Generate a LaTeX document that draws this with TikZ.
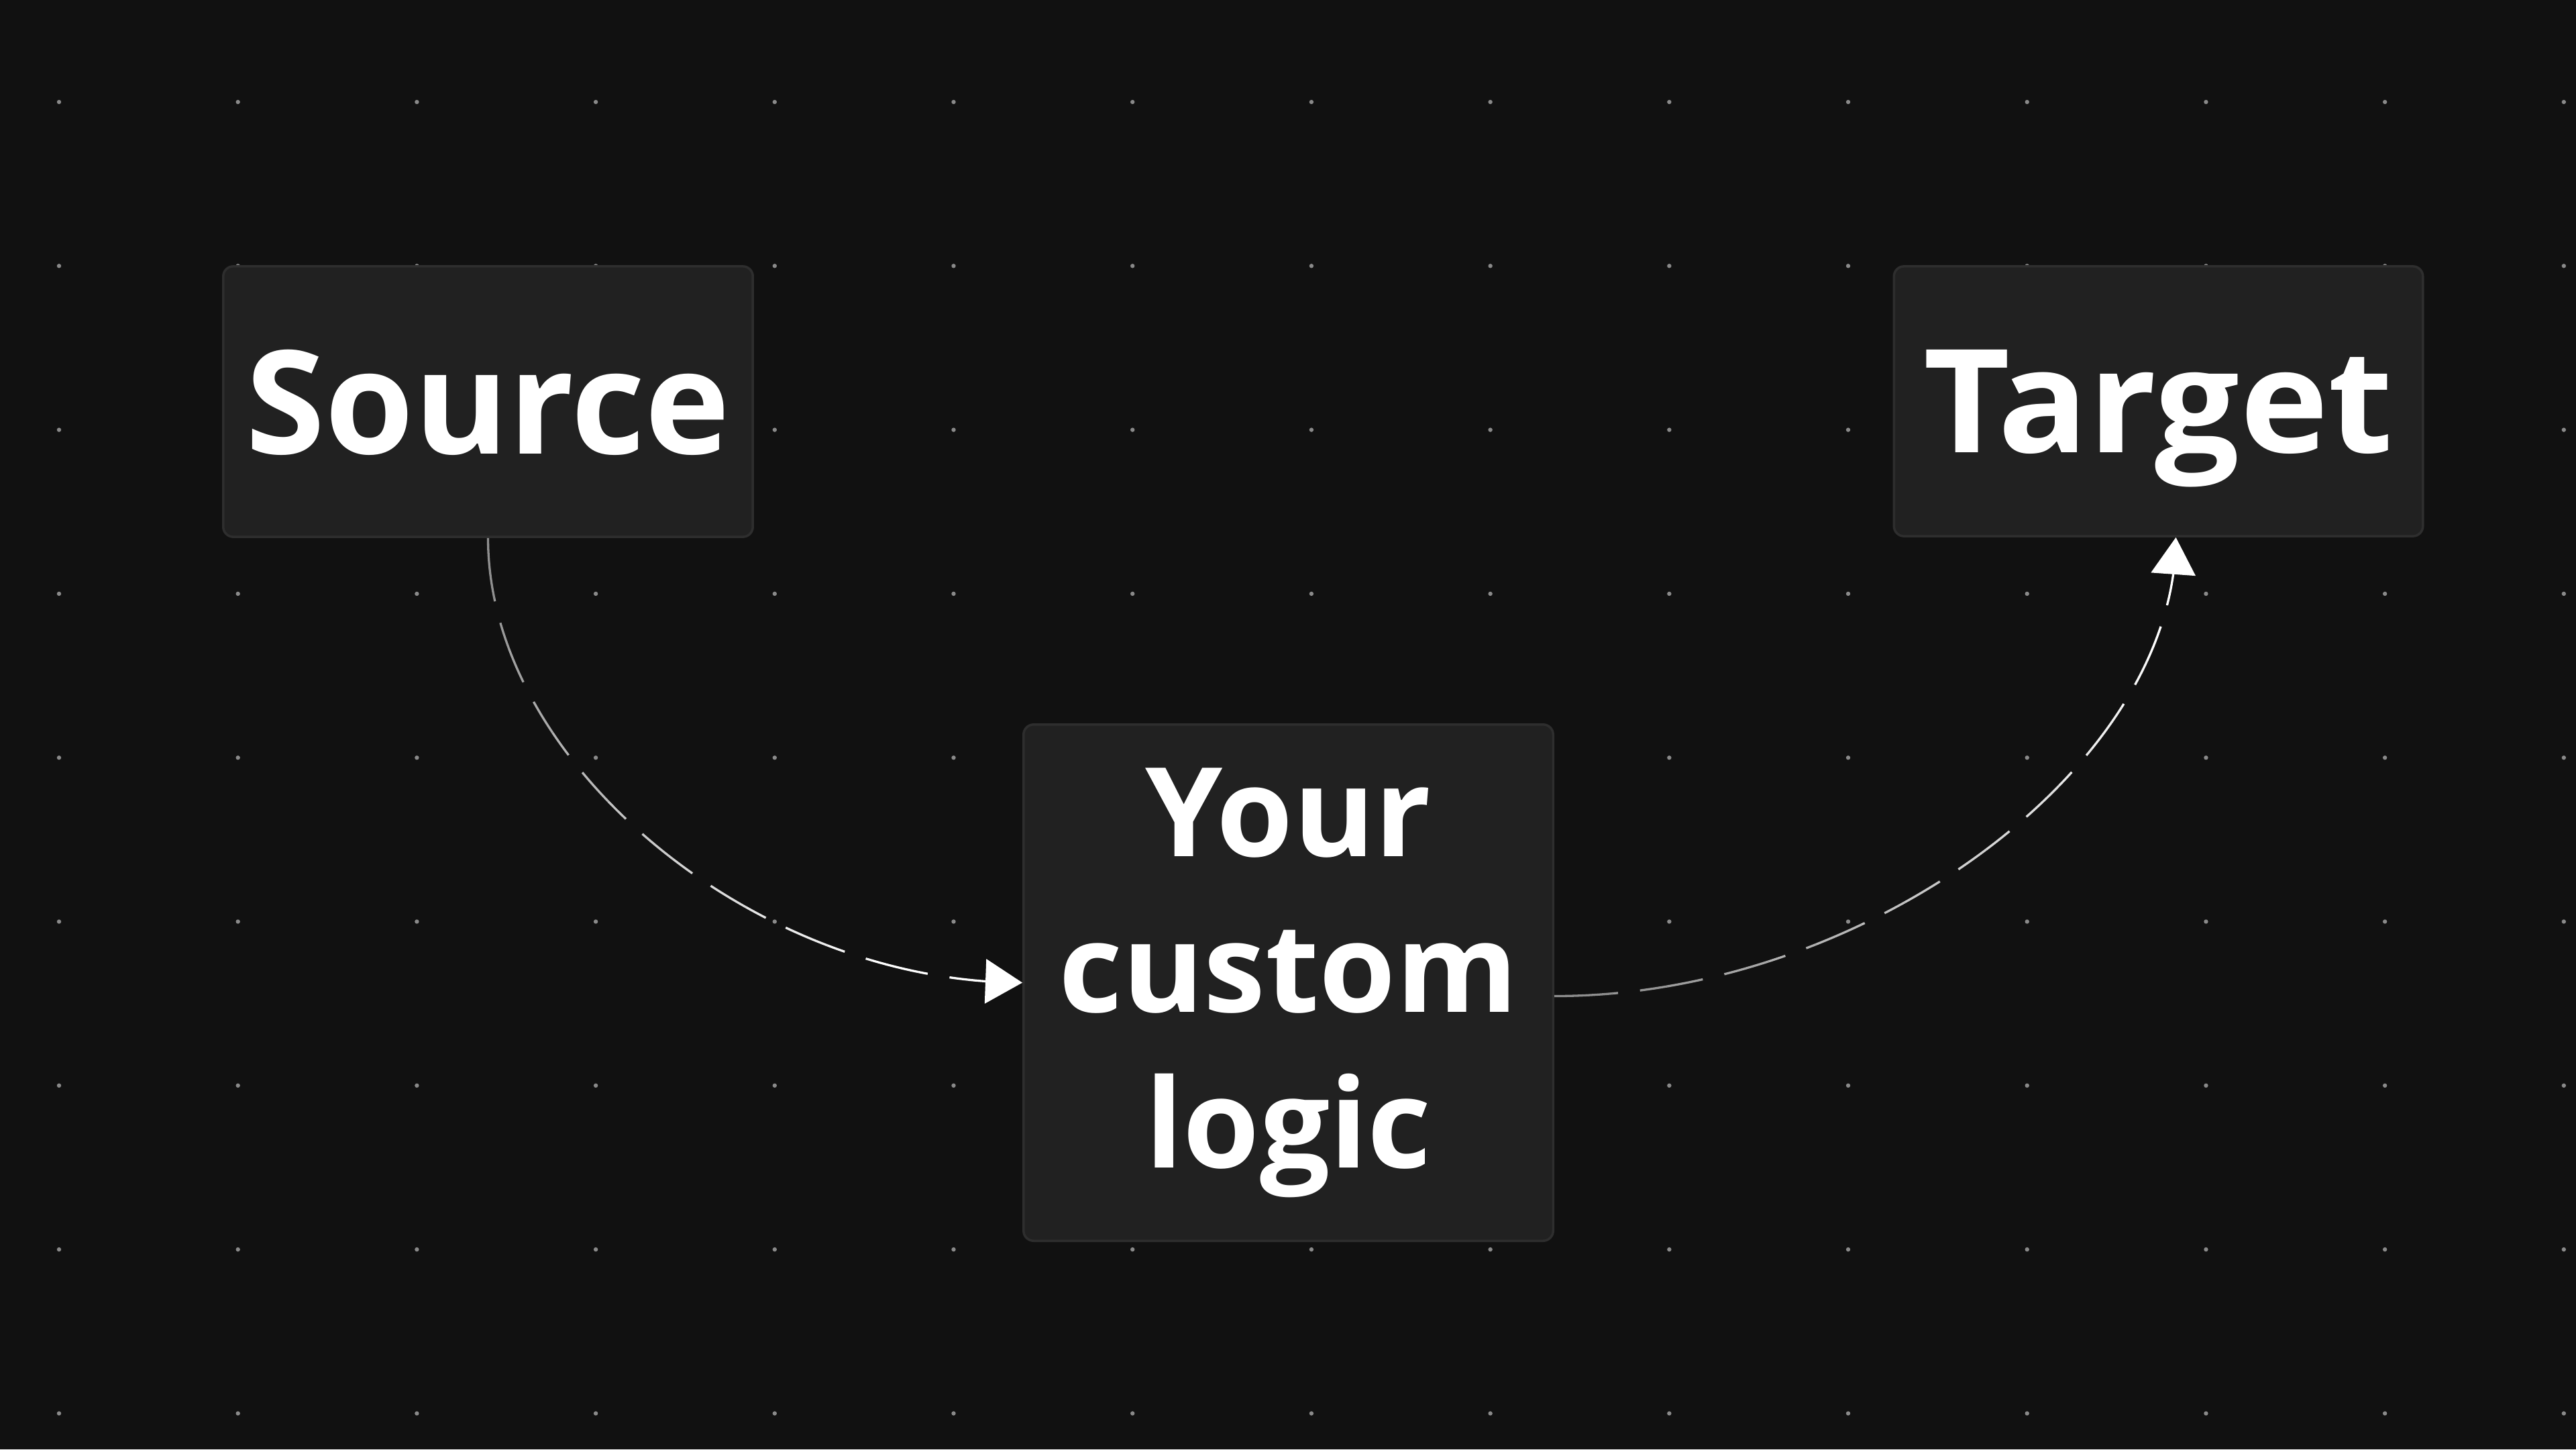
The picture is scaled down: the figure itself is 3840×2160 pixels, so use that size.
\documentclass[tikz,border=0pt]{standalone}
\usepackage{graphicx}
\usepackage{fontspec}
\setmainfont{Open Sans}
\usetikzlibrary{calc,arrows.meta,bending}
\definecolor{bgcol}{HTML}{111111}
\definecolor{boxfill}{HTML}{212121}
\definecolor{boxline}{HTML}{2E2E2E}
\definecolor{dotcol}{HTML}{8A8A8A}
\begin{document}
\begin{tikzpicture}[x=0.01cm, y=-0.01cm,
  box/.style={draw=boxline, fill=boxfill, rounded corners=0.15cm, line width=0.035cm, inner sep=0pt, text=white},
  bigtext/.style={font=\bfseries\fontsize{61}{73}\selectfont, text depth=0pt},
  midtext/.style={font=\bfseries\fontsize{52.5}{66}\selectfont, align=center},
  edge/.style={line width=0.033cm, dash pattern=on 0.95cm off 0.33cm, -{Triangle[length=0.55cm, width=0.66cm]}},
  gdot/.style={fill=dotcol}
]
\useasboundingbox (0,0) rectangle (3840,2160);
\fill[bgcol] (0,0) rectangle (3840,2160);
\foreach \i in {0,...,14}
  \foreach \j in {0,...,8}
    \fill[gdot] (88+266.7*\i, 152+244.3*\j) circle[radius=0.032cm];

\node[box, bigtext, minimum width=7.89cm, minimum height=4.03cm] (src) at (727.5,598.5) {Source};
\node[box, bigtext, minimum width=7.88cm, minimum height=4.02cm] (tg) at (3217.5,598) {\scalebox{1.04}[1]{Target}};
\node[box, midtext, minimum width=7.89cm, minimum height=7.69cm] (cl) at (1920.5,1464.5) {Your\\custom\\logic};

% edge 1: Source -> custom logic
\coordinate (s1) at (src.south);
\coordinate (e1) at (cl.west);
\coordinate (p1) at ($(s1)!1!90:(e1)$);
\foreach \k in {0,...,15} {
  \pgfmathsetmacro\sa{ifthenelse(\k==0,-1,\k/16)}
  \pgfmathsetmacro\sb{ifthenelse(\k==15,2,(\k+1)/16)}
  \pgfmathsetmacro\g{min(100,(140+135*((\k+0.5)/16))/2.55)}
  \begin{scope}
    \clip ($(s1)!\sa!(e1)+3*(p1)-3*(s1)$) -- ($(s1)!\sb!(e1)+3*(p1)-3*(s1)$) -- ($(s1)!\sb!(e1)-3*(p1)+3*(s1)$) -- ($(s1)!\sa!(e1)-3*(p1)+3*(s1)$) -- cycle;
    \draw[edge, draw=white!\g!black] (s1) .. controls +(0,334) and +(-400,0) .. (e1);
  \end{scope}
}

% edge 2: custom logic -> Target
\coordinate (s2) at ([yshift=-0.2cm]cl.east);
\coordinate (e2) at ([xshift=0.26cm]tg.south);
\coordinate (p2) at ($(s2)!1!90:(e2)$);
\foreach \k in {0,...,15} {
  \pgfmathsetmacro\sa{ifthenelse(\k==0,-1,\k/16)}
  \pgfmathsetmacro\sb{ifthenelse(\k==15,2,(\k+1)/16)}
  \pgfmathsetmacro\g{min(100,(138+130*((\k+0.5)/16))/2.55)}
  \begin{scope}
    \clip ($(s2)!\sa!(e2)+3*(p2)-3*(s2)$) -- ($(s2)!\sb!(e2)+3*(p2)-3*(s2)$) -- ($(s2)!\sb!(e2)-3*(p2)+3*(s2)$) -- ($(s2)!\sa!(e2)-3*(p2)+3*(s2)$) -- cycle;
    \draw[edge, draw=white!\g!black] (s2) .. controls +(464,0) and +(0,342) .. (e2);
  \end{scope}
}
\end{tikzpicture}
\end{document}
